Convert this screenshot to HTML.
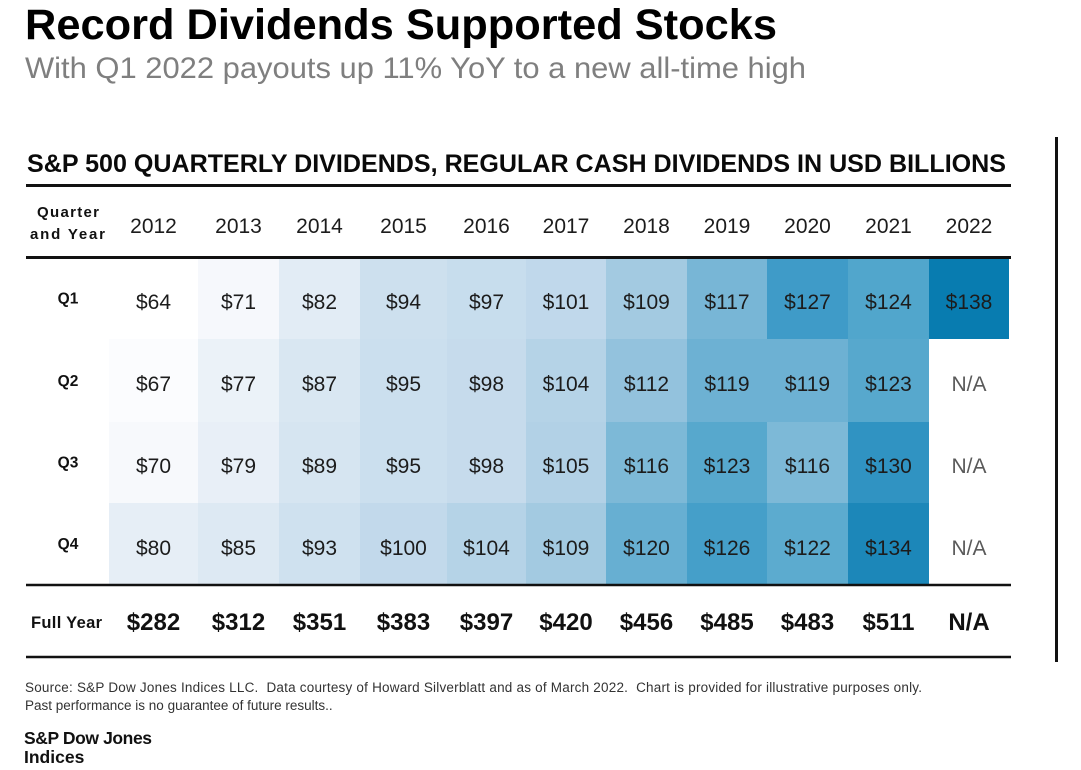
<!DOCTYPE html>
<html><head><meta charset="utf-8"><style>
html,body{margin:0;padding:0;background:#fff;}
svg{display:block;}
text{font-family:"Liberation Sans",Arial,sans-serif;}
.v{font-size:21px;fill:#1c1c1c;text-anchor:middle;}
.na{font-size:21px;fill:#5a5a5a;text-anchor:middle;}
.q{font-size:15.5px;font-weight:bold;fill:#111;text-anchor:middle;}
.y{font-size:21px;fill:#1c1c1c;text-anchor:middle;}
.fy{font-size:24px;font-weight:bold;fill:#111;text-anchor:middle;}
</style></head><body>
<svg width="1081" height="770" viewBox="0 0 1081 770" xmlns="http://www.w3.org/2000/svg">
<rect width="1081" height="770" fill="#fff"/>
<text x="25" y="39" font-size="42.5" font-weight="bold" fill="#000" textLength="752" lengthAdjust="spacingAndGlyphs">Record Dividends Supported Stocks</text>
<text x="25" y="78" font-size="30" fill="#7f7f7f" textLength="781" lengthAdjust="spacingAndGlyphs">With Q1 2022 payouts up 11% YoY to a new all-time high</text>
<text x="27" y="172" font-size="25" font-weight="bold" fill="#0a0a0a" textLength="979" lengthAdjust="spacingAndGlyphs">S&amp;P 500 QUARTERLY DIVIDENDS, REGULAR CASH DIVIDENDS IN USD BILLIONS</text>

<!-- cells -->
<g>
<rect x="109" y="258" width="89" height="81" fill="#ffffff"/>
<rect x="198" y="258" width="81" height="81" fill="#f6f8fc"/>
<rect x="279" y="258" width="81" height="81" fill="#e2ecf5"/>
<rect x="360" y="258" width="87" height="81" fill="#cde0ee"/>
<rect x="447" y="258" width="79" height="81" fill="#c7dded"/>
<rect x="526" y="258" width="80" height="81" fill="#c0d8eb"/>
<rect x="606" y="258" width="81" height="81" fill="#a3cae1"/>
<rect x="687" y="258" width="80" height="81" fill="#78b6d6"/>
<rect x="767" y="258" width="81" height="81" fill="#3f9bc8"/>
<rect x="848" y="258" width="81" height="81" fill="#51a6cc"/>
<rect x="929" y="258" width="80" height="81" fill="#087cb0"/>
<rect x="109" y="339" width="89" height="83" fill="#fbfcfe"/>
<rect x="198" y="339" width="81" height="83" fill="#ebf2f8"/>
<rect x="279" y="339" width="81" height="83" fill="#d9e7f2"/>
<rect x="360" y="339" width="87" height="83" fill="#cbdfee"/>
<rect x="447" y="339" width="79" height="83" fill="#c6dbec"/>
<rect x="526" y="339" width="80" height="83" fill="#b5d3e7"/>
<rect x="606" y="339" width="81" height="83" fill="#93c2dd"/>
<rect x="687" y="339" width="80" height="83" fill="#6db1d3"/>
<rect x="767" y="339" width="81" height="83" fill="#6db1d3"/>
<rect x="848" y="339" width="81" height="83" fill="#57a8cd"/>
<rect x="109" y="422" width="89" height="81" fill="#f7f9fc"/>
<rect x="198" y="422" width="81" height="81" fill="#e8eff7"/>
<rect x="279" y="422" width="81" height="81" fill="#d6e5f1"/>
<rect x="360" y="422" width="87" height="81" fill="#cbdfee"/>
<rect x="447" y="422" width="79" height="81" fill="#c6dbec"/>
<rect x="526" y="422" width="80" height="81" fill="#b2d1e6"/>
<rect x="606" y="422" width="81" height="81" fill="#7db9d7"/>
<rect x="687" y="422" width="80" height="81" fill="#57a8cd"/>
<rect x="767" y="422" width="81" height="81" fill="#7db9d7"/>
<rect x="848" y="422" width="81" height="81" fill="#3093c2"/>
<rect x="109" y="503" width="89" height="82" fill="#e6eef6"/>
<rect x="198" y="503" width="81" height="82" fill="#dde9f3"/>
<rect x="279" y="503" width="81" height="82" fill="#cfe1ef"/>
<rect x="360" y="503" width="87" height="82" fill="#c2d9eb"/>
<rect x="447" y="503" width="79" height="82" fill="#b5d3e7"/>
<rect x="526" y="503" width="80" height="82" fill="#a3cae1"/>
<rect x="606" y="503" width="81" height="82" fill="#67afd2"/>
<rect x="687" y="503" width="80" height="82" fill="#459fc9"/>
<rect x="767" y="503" width="81" height="82" fill="#5cabcf"/>
<rect x="848" y="503" width="81" height="82" fill="#1c87b9"/>
</g>

<!-- lines -->
<line x1="26" y1="185.5" x2="1011" y2="185.5" stroke="#111" stroke-width="3"/>
<line x1="26" y1="257.5" x2="1011" y2="257.5" stroke="#111" stroke-width="3"/>
<line x1="26" y1="585" x2="1011" y2="585" stroke="#111" stroke-width="2.5"/>
<line x1="26" y1="657" x2="1011" y2="657" stroke="#111" stroke-width="2.5"/>
<line x1="1056.5" y1="137" x2="1056.5" y2="662" stroke="#111" stroke-width="3"/>

<!-- header -->
<text x="37" y="217" font-size="15" font-weight="bold" fill="#111" textLength="62" lengthAdjust="spacing">Quarter</text>
<text x="30" y="239" font-size="15" font-weight="bold" fill="#111" textLength="75" lengthAdjust="spacing">and Year</text>
<text class="y" x="153.5" y="233">2012</text>
<text class="y" x="238.5" y="233">2013</text>
<text class="y" x="319.5" y="233">2014</text>
<text class="y" x="403.5" y="233">2015</text>
<text class="y" x="486.5" y="233">2016</text>
<text class="y" x="566" y="233">2017</text>
<text class="y" x="646.5" y="233">2018</text>
<text class="y" x="727" y="233">2019</text>
<text class="y" x="807.5" y="233">2020</text>
<text class="y" x="888.5" y="233">2021</text>
<text class="y" x="969" y="233">2022</text>

<!-- row labels -->
<text class="q" x="68" y="303.5">Q1</text>
<text class="q" x="68" y="386">Q2</text>
<text class="q" x="68" y="467.5">Q3</text>
<text class="q" x="68" y="549">Q4</text>

<g>
<text class="v" x="153.5" y="309">$64</text>
<text class="v" x="238.5" y="309">$71</text>
<text class="v" x="319.5" y="309">$82</text>
<text class="v" x="403.5" y="309">$94</text>
<text class="v" x="486.5" y="309">$97</text>
<text class="v" x="566" y="309">$101</text>
<text class="v" x="646.5" y="309">$109</text>
<text class="v" x="727" y="309">$117</text>
<text class="v" x="807.5" y="309">$127</text>
<text class="v" x="888.5" y="309">$124</text>
<text class="v" x="969" y="309">$138</text>
</g>
<g>
<text class="v" x="153.5" y="391">$67</text>
<text class="v" x="238.5" y="391">$77</text>
<text class="v" x="319.5" y="391">$87</text>
<text class="v" x="403.5" y="391">$95</text>
<text class="v" x="486.5" y="391">$98</text>
<text class="v" x="566" y="391">$104</text>
<text class="v" x="646.5" y="391">$112</text>
<text class="v" x="727" y="391">$119</text>
<text class="v" x="807.5" y="391">$119</text>
<text class="v" x="888.5" y="391">$123</text>
<text class="na" x="969" y="391">N/A</text>
</g>
<g>
<text class="v" x="153.5" y="473">$70</text>
<text class="v" x="238.5" y="473">$79</text>
<text class="v" x="319.5" y="473">$89</text>
<text class="v" x="403.5" y="473">$95</text>
<text class="v" x="486.5" y="473">$98</text>
<text class="v" x="566" y="473">$105</text>
<text class="v" x="646.5" y="473">$116</text>
<text class="v" x="727" y="473">$123</text>
<text class="v" x="807.5" y="473">$116</text>
<text class="v" x="888.5" y="473">$130</text>
<text class="na" x="969" y="473">N/A</text>
</g>
<g>
<text class="v" x="153.5" y="555">$80</text>
<text class="v" x="238.5" y="555">$85</text>
<text class="v" x="319.5" y="555">$93</text>
<text class="v" x="403.5" y="555">$100</text>
<text class="v" x="486.5" y="555">$104</text>
<text class="v" x="566" y="555">$109</text>
<text class="v" x="646.5" y="555">$120</text>
<text class="v" x="727" y="555">$126</text>
<text class="v" x="807.5" y="555">$122</text>
<text class="v" x="888.5" y="555">$134</text>
<text class="na" x="969" y="555">N/A</text>
</g>

<!-- full year -->
<text x="31" y="628" font-size="16.5" font-weight="bold" fill="#111" textLength="71" lengthAdjust="spacing">Full Year</text>
<g>
<text class="fy" x="153.5" y="630">$282</text>
<text class="fy" x="238.5" y="630">$312</text>
<text class="fy" x="319.5" y="630">$351</text>
<text class="fy" x="403.5" y="630">$383</text>
<text class="fy" x="486.5" y="630">$397</text>
<text class="fy" x="566" y="630">$420</text>
<text class="fy" x="646.5" y="630">$456</text>
<text class="fy" x="727" y="630">$485</text>
<text class="fy" x="807.5" y="630">$483</text>
<text class="fy" x="888.5" y="630">$511</text>
<text class="fy" x="969" y="630">N/A</text>
</g>

<!-- source -->
<text x="25" y="692" font-size="13.5" fill="#333" textLength="897" lengthAdjust="spacing" xml:space="preserve">Source: S&amp;P Dow Jones Indices LLC.  Data courtesy of Howard Silverblatt and as of March 2022.  Chart is provided for illustrative purposes only.</text>
<text x="25" y="710" font-size="13.5" fill="#333">Past performance is no guarantee of future results..</text>

<!-- logo -->
<text x="24" y="744" font-size="17.5" font-weight="bold" fill="#111" textLength="128" lengthAdjust="spacing">S&amp;P Dow Jones</text>
<text x="24" y="763" font-size="17.5" font-weight="bold" fill="#111">Indices</text>
</svg>
</body></html>
